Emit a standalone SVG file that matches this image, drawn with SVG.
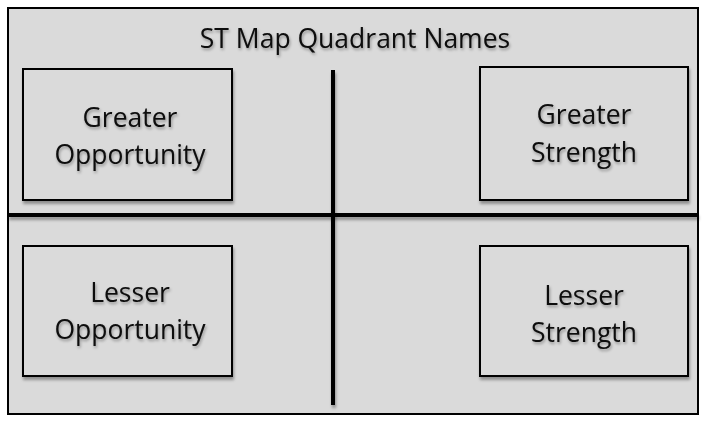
<svg xmlns="http://www.w3.org/2000/svg" width="709" height="422" viewBox="0 0 709 422">
  <style>
    .frame { fill: #dadada; stroke: #000; stroke-width: 2; }
    .box { fill: #dadada; stroke: #000; stroke-width: 2; filter: url(#shadow); }
    .axis { stroke: #000; stroke-width: 4; fill: none; filter: url(#lshadow); }
    .lbl { font-family: "Open Sans", "Noto Sans", "Liberation Sans", sans-serif; font-size: 26.5px; fill: #0a0a0a; text-anchor: middle; filter: url(#tshadow); }
  </style>
  <defs>
    <filter id="shadow" x="-10%" y="-10%" width="120%" height="130%">
      <feGaussianBlur in="SourceAlpha" stdDeviation="1.5"/>
      <feOffset dx="1" dy="3"/>
      <feComponentTransfer><feFuncA type="linear" slope="0.35"/></feComponentTransfer>
      <feMerge><feMergeNode/><feMergeNode in="SourceGraphic"/></feMerge>
    </filter>
    <filter id="lshadow" filterUnits="userSpaceOnUse" x="0" y="0" width="709" height="422">
      <feGaussianBlur in="SourceAlpha" stdDeviation="1.5"/>
      <feOffset dx="1" dy="3"/>
      <feComponentTransfer><feFuncA type="linear" slope="0.35"/></feComponentTransfer>
      <feMerge><feMergeNode/><feMergeNode in="SourceGraphic"/></feMerge>
    </filter>
    <filter id="tshadow" x="-10%" y="-20%" width="120%" height="150%">
      <feGaussianBlur in="SourceAlpha" stdDeviation="1.5"/>
      <feOffset dx="1" dy="2"/>
      <feComponentTransfer><feFuncA type="linear" slope="0.35"/></feComponentTransfer>
      <feMerge><feMergeNode/><feMergeNode in="SourceGraphic"/></feMerge>
    </filter>
  </defs>

  <rect width="709" height="422" fill="#fff"/>

  <g id="map">
    <rect class="frame" x="8" y="8" width="690" height="406"/>
    <text class="lbl" x="355" y="48">ST Map Quadrant Names</text>
  </g>

  <g id="axes">
    <line class="axis" x1="8" y1="215" x2="698" y2="215"/>
    <line class="axis" x1="333" y1="70" x2="333" y2="405"/>
  </g>

  <g id="greater-opportunity">
    <rect class="box" x="23" y="69" width="209" height="131"/>
    <text class="lbl" x="130" y="127">Greater</text>
    <text class="lbl" x="130" y="164">Opportunity</text>
  </g>

  <g id="greater-strength">
    <rect class="box" x="480" y="67" width="208" height="133"/>
    <text class="lbl" x="584" y="124">Greater</text>
    <text class="lbl" x="584" y="162">Strength</text>
  </g>

  <g id="lesser-opportunity">
    <rect class="box" x="23" y="246" width="209" height="130"/>
    <text class="lbl" x="130" y="302">Lesser</text>
    <text class="lbl" x="130" y="339">Opportunity</text>
  </g>

  <g id="lesser-strength">
    <rect class="box" x="480" y="246" width="208" height="130"/>
    <text class="lbl" x="584" y="305">Lesser</text>
    <text class="lbl" x="584" y="342">Strength</text>
  </g>
</svg>
